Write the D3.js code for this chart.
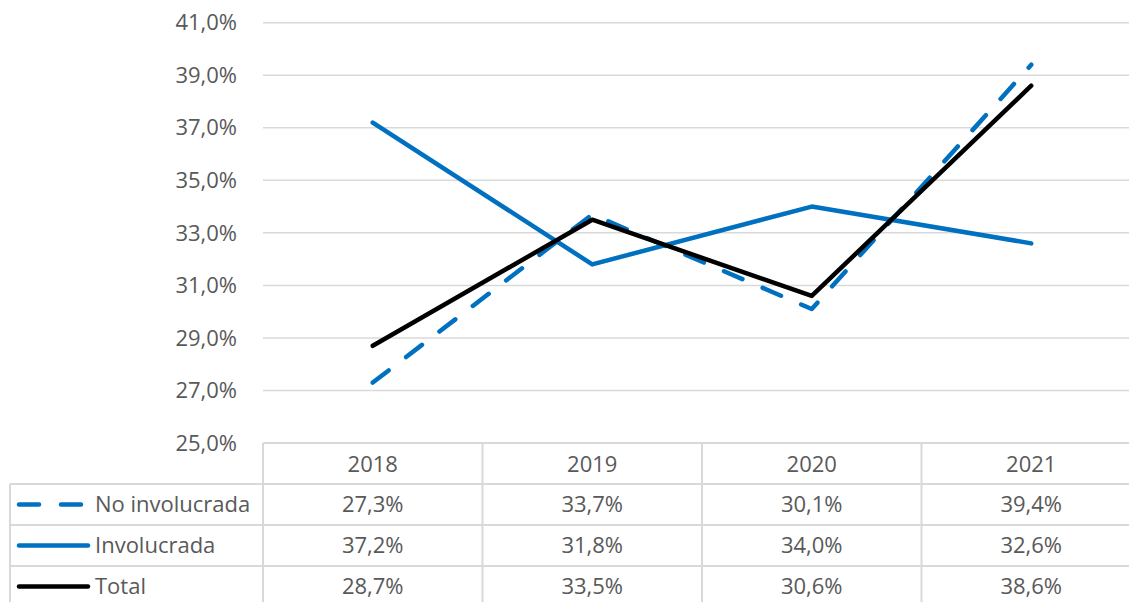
<!DOCTYPE html>
<html>
<head>
<meta charset="utf-8">
<script src="https://cdn.jsdelivr.net/npm/d3@7"></script>
<style>
  body { margin: 0; background: #fff; }
  svg text { font-family: "Open Sans", "Noto Sans", sans-serif; fill: #595959; }
</style>
</head>
<body>
<svg id="svg" width="1129" height="602"></svg>
<script>
const years = ['2018', '2019', '2020', '2021'];
const noInvolucrada = [27.3, 33.7, 30.1, 39.4];
const involucrada   = [37.2, 31.8, 34.0, 32.6];
const total         = [28.7, 33.5, 30.6, 38.6];
const yTicks = [25, 27, 29, 31, 33, 35, 37, 39, 41];

const series = [
    { name: 'No involucrada', values: noInvolucrada, color: '#0070C0', dash: '20,22' },
    { name: 'Involucrada',    values: involucrada,   color: '#0070C0', dash: null },
    { name: 'Total',          values: total,         color: '#000000', dash: null },
];

const svg = d3.select('#svg');
const fmt = v => v.toFixed(1).replace('.', ',') + '%';
const FS = '22px';

const x = d3.scaleBand().domain(years).range([263, 1141]).padding(0);
const y = d3.scaleLinear().domain([25, 41]).range([443, 22.7]);

const gridColor = '#d9d9d9';

// --- Grid ---
svg.append('g')
    .selectAll('line')
    .data(yTicks.slice(1))
    .join('line')
    .attr('x1', 263).attr('x2', 1141)
    .attr('y1', d => y(d)).attr('y2', d => y(d))
    .attr('stroke', gridColor).attr('stroke-width', 1.5);

// --- Y labels ---
svg.append('g')
    .selectAll('text')
    .data(yTicks)
    .join('text')
    .attr('x', 237)
    .attr('y', d => y(d))
    .attr('dy', '0.35em')
    .attr('text-anchor', 'end')
    .attr('font-size', FS)
    .text(d => fmt(d));

// --- Lines ---
const line = d3.line()
    .x((d, i) => x(years[i]) + x.bandwidth() / 2)
    .y(d => y(d));

svg.append('g')
    .selectAll('path')
    .data(series)
    .join('path')
    .attr('d', d => line(d.values))
    .attr('fill', 'none')
    .attr('stroke', d => d.color)
    .attr('stroke-width', 4.5)
    .attr('stroke-linecap', 'round')
    .attr('stroke-linejoin', 'round')
    .attr('stroke-dasharray', d => d.dash);

// --- Data table ---
const rowH = 41;
const headTop = 443;
const table = svg.append('g');

// horizontal lines
table.append('line')
    .attr('x1', 263).attr('x2', 1141)
    .attr('y1', headTop).attr('y2', headTop)
    .attr('stroke', gridColor).attr('stroke-width', 2);
series.forEach((s, i) => {
    const yy = headTop + rowH * (i + 1);
    table.append('line')
        .attr('x1', 10).attr('x2', 1141)
        .attr('y1', yy).attr('y2', yy)
        .attr('stroke', gridColor).attr('stroke-width', 2);
});

// vertical lines
const vx = [263, ...years.map(yr => x(yr) + x.bandwidth())];
vx.forEach(xx => {
    table.append('line')
        .attr('x1', xx).attr('x2', xx)
        .attr('y1', headTop).attr('y2', 602)
        .attr('stroke', gridColor).attr('stroke-width', 2);
});
table.append('line')
    .attr('x1', 10).attr('x2', 10)
    .attr('y1', headTop + rowH).attr('y2', 602)
    .attr('stroke', gridColor).attr('stroke-width', 2);

// header
table.selectAll('text.year')
    .data(years)
    .join('text')
    .attr('class', 'year')
    .attr('x', d => x(d) + x.bandwidth() / 2)
    .attr('y', headTop + rowH / 2 + 1)
    .attr('dy', '0.35em')
    .attr('text-anchor', 'middle')
    .attr('font-size', FS)
    .text(d => d);

// rows
series.forEach((s, i) => {
    const cy = headTop + rowH * (i + 1) + rowH / 2;
    table.append('line')
        .attr('x1', 19).attr('x2', s.dash ? 82 : 88)
        .attr('y1', cy).attr('y2', cy)
        .attr('stroke', s.color)
        .attr('stroke-width', 4.5)
        .attr('stroke-linecap', 'round')
        .attr('stroke-dasharray', s.dash);
    table.append('text')
        .attr('x', 95).attr('y', cy)
        .attr('dy', '0.35em')
        .attr('font-size', FS)
        .text(s.name);
    table.selectAll(null)
        .data(s.values)
        .join('text')
        .attr('x', (d, j) => x(years[j]) + x.bandwidth() / 2)
        .attr('y', cy)
        .attr('dy', '0.35em')
        .attr('text-anchor', 'middle')
        .attr('font-size', FS)
        .text(d => fmt(d));
});
</script>
</body>
</html>
